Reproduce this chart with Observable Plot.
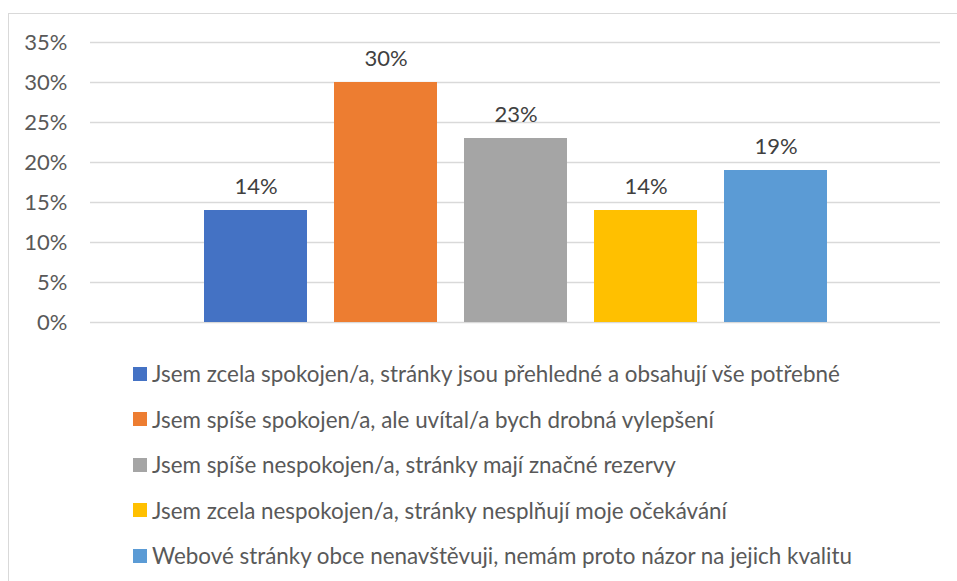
<!DOCTYPE html>
<html>
<head>
<meta charset="utf-8">
<script src="https://cdn.jsdelivr.net/npm/d3@7"></script>
<script src="https://cdn.jsdelivr.net/npm/@observablehq/plot@0.6"></script>
<style>
  html, body { margin: 0; padding: 0; background: #fff; overflow: hidden; }
  body { width: 957px; height: 581px; position: relative; font-family: Lato, "Open Sans", sans-serif; }
  #frame { position: absolute; left: 8px; top: 13px; width: 980px; height: 600px; border: 1px solid #d9d9d9; pointer-events: none; }
  #legend { margin-top: 6px; padding-left: 133px; }
  .row { height: 45.5px; display: flex; align-items: center; font-size: 22.4px; color: #595959; white-space: nowrap; }
  .sw { width: 14px; height: 14px; margin-right: 5px; flex: none; }
</style>
</head>
<body>
<div id="chart"></div>
<div id="legend"></div>
<div id="frame"></div>
<script>
const categories = [
  "Jsem zcela spokojen/a, stránky jsou přehledné a obsahují vše potřebné",
  "Jsem spíše spokojen/a, ale uvítal/a bych drobná vylepšení",
  "Jsem spíše nespokojen/a, stránky mají značné rezervy",
  "Jsem zcela nespokojen/a, stránky nesplňují moje očekávání",
  "Webové stránky obce nenavštěvuji, nemám proto názor na jejich kvalitu"
];
const values = [0.14, 0.30, 0.23, 0.14, 0.19];
const colors = ["#4472C4", "#ED7D31", "#A5A5A5", "#FFC000", "#5B9BD5"];
const yTicks = [0, 0.05, 0.10, 0.15, 0.20, 0.25, 0.30, 0.35];

const data = categories.map((c, i) => ({category: c, value: values[i]}));
const pct = d3.format(".0%");

const H = 345;
const chart = Plot.plot({
  width: 957,
  height: H,
  marginLeft: 90,
  marginRight: 17,
  marginTop: 42,
  marginBottom: H - 322,
  style: {fontFamily: "Lato, 'Open Sans', sans-serif", fontSize: "22px", color: "#595959", background: "transparent"},
  x: {type: "band", domain: categories, paddingInner: 0.21, paddingOuter: 0.866, axis: null},
  y: {domain: [0, 0.35], ticks: yTicks, tickFormat: pct, label: null},
  color: {domain: categories, range: colors},
  marks: [
    Plot.gridY(yTicks, {stroke: "#d9d9d9", strokeOpacity: 1, strokeWidth: 1.3}),
    Plot.axisY(yTicks, {tickSize: 0, tickPadding: 23, tickFormat: pct, fill: "#595959", fontSize: 22, label: null}),
    Plot.barY(data, {x: "category", y: "value", fill: "category"}),
    Plot.text(data, {x: "category", y: "value", text: d => pct(d.value), lineAnchor: "bottom", dy: -17, fill: "#404040", fontSize: 22})
  ]
});
document.getElementById("chart").appendChild(chart);

const legend = document.getElementById("legend");
categories.forEach((c, i) => {
  const row = document.createElement("div");
  row.className = "row";
  const sw = document.createElement("span");
  sw.className = "sw";
  sw.style.background = colors[i];
  const t = document.createElement("span");
  t.textContent = c;
  row.appendChild(sw);
  row.appendChild(t);
  legend.appendChild(row);
});
</script>
</body>
</html>
